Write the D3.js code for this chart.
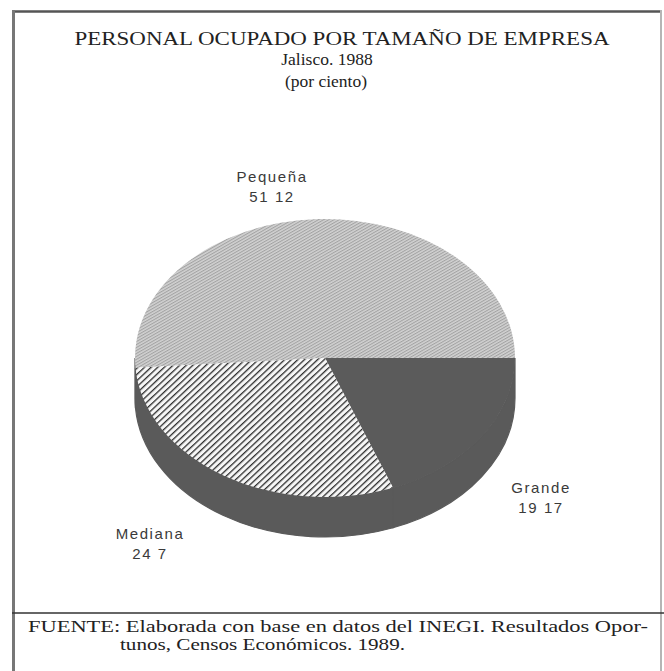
<!DOCTYPE html>
<html>
<head>
<meta charset="utf-8">
<script src="https://cdn.jsdelivr.net/npm/d3@7"></script>
<style>
  body { margin: 0; background: #fff; }
  svg { display: block; }
</style>
</head>
<body>
<div id="chart"></div>
<script>
// datos del grafico
let categories = ["Pequeña", "Grande", "Mediana"];
let values = [51.12, 19.17, 29.7];
let valueLabels = ["51 12", "19 17", "24 7"];
let titleLines = ["PERSONAL OCUPADO POR TAMAÑO DE EMPRESA", "Jalisco. 1988", "(por ciento)"];
let footerLines = ["FUENTE: Elaborada con base en datos del INEGI. Resultados Opor-", "tunos, Censos Económicos. 1989."];

let width = 664, height = 671;
let cx = 325, cy = 358, rx = 190, ry = 139, depth = 40;

let svg = d3.select("#chart").append("svg")
    .attr("width", width).attr("height", height);

let defs = svg.append("defs");

// trama fina gris para Pequeña
let p1 = defs.append("pattern").attr("id", "pat-peq")
    .attr("patternUnits", "userSpaceOnUse").attr("width", 8).attr("height", 3.2)
    .attr("patternTransform", "rotate(-38)");
p1.append("rect").attr("width", 8).attr("height", 3.2).attr("fill", "#d2d2d2");
p1.append("rect").attr("width", 8).attr("height", 1.3).attr("fill", "#a2a2a2");

// rayado negro sobre blanco para Mediana
let p2 = defs.append("pattern").attr("id", "pat-med")
    .attr("patternUnits", "userSpaceOnUse").attr("width", 8).attr("height", 5.2)
    .attr("patternTransform", "rotate(-52)");
p2.append("rect").attr("width", 8).attr("height", 5.2).attr("fill", "#f6f6f6");
p2.append("rect").attr("width", 8).attr("height", 1.5).attr("fill", "#2e2e2e");

let topFill = {"Pequeña": "url(#pat-peq)", "Grande": "#5b5b5b", "Mediana": "url(#pat-med)"};
let sideColor = "#5a5a5a";

// marco
let frame = svg.append("g");
frame.append("line").attr("x1", 12).attr("x2", 662).attr("y1", 11.5).attr("y2", 11.5)
    .attr("stroke", "#555").attr("stroke-width", 2.5);
frame.append("line").attr("x1", 13.5).attr("x2", 13.5).attr("y1", 10).attr("y2", height)
    .attr("stroke", "#777").attr("stroke-width", 3);
frame.append("line").attr("x1", 661).attr("x2", 661).attr("y1", 10).attr("y2", height)
    .attr("stroke", "#b5b5b5").attr("stroke-width", 2);
frame.append("line").attr("x1", 12).attr("x2", 664).attr("y1", 613).attr("y2", 613)
    .attr("stroke", "#333").attr("stroke-width", 1.6);

// titulo
let tY = [45, 65, 87];
let tX = [342, 327, 326];
svg.append("g").selectAll("text").data(titleLines).enter().append("text")
    .attr("x", (d, i) => tX[i]).attr("y", (d, i) => tY[i])
    .attr("text-anchor", "middle")
    .attr("font-family", "Liberation Serif, Times New Roman, serif")
    .attr("font-size", (d, i) => i == 0 ? 19 : 17.5)
    .attr("fill", "#222")
    .attr("textLength", (d, i) => i == 0 ? 535 : null)
    .attr("lengthAdjust", "spacingAndGlyphs")
    .text(d => d);

// pastel
let total = d3.sum(values);
let start = Math.PI / 2 - 2 * Math.PI * values[0] / total;
let pie = d3.pie().sort(null).value(d => d.value)
    .startAngle(start).endAngle(start + 2 * Math.PI);
let data = categories.map((c, i) => ({name: c, value: values[i], label: valueLabels[i]}));
let arcs = pie(data);

function pt(a, dy) {
    return [cx + rx * Math.sin(a), cy - ry * Math.cos(a) + dy];
}

// pared lateral: solo la mitad frontal (de 3 a 9 en punto)
function sidePath(a0, a1) {
    let s = Math.max(a0, Math.PI / 2), e = Math.min(a1, 3 * Math.PI / 2);
    if (e <= s) return null;
    let p0 = pt(s, 0), p1 = pt(e, 0), p2 = pt(e, depth), p3 = pt(s, depth);
    let large = (e - s) > Math.PI ? 1 : 0;
    return "M" + p0 + "A" + rx + "," + ry + " 0 " + large + " 1 " + p1 +
        "L" + p2 + "A" + rx + "," + ry + " 0 " + large + " 0 " + p3 + "Z";
}

let sides = [];
arcs.forEach(d => {
    [0, 2 * Math.PI, -2 * Math.PI].forEach(off => {
        let p = sidePath(d.startAngle + off, d.endAngle + off);
        if (p) sides.push({name: d.data.name, path: p});
    });
});

svg.append("g").selectAll("path").data(sides).enter().append("path")
    .attr("d", d => d.path)
    .attr("fill", sideColor)
    .attr("stroke", sideColor).attr("stroke-width", 1.2);

let arc = d3.arc().innerRadius(0).outerRadius(rx);
svg.append("g")
    .attr("transform", "translate(" + cx + "," + cy + ") scale(1," + (ry / rx) + ")")
    .selectAll("path").data(arcs).enter().append("path")
    .attr("d", arc)
    .attr("fill", d => topFill[d.data.name]);

// etiquetas
let labelPos = {"Pequeña": [272, 182], "Grande": [541, 493], "Mediana": [150, 539]};
let lab = svg.append("g").selectAll("g").data(arcs).enter().append("g")
    .attr("transform", d => "translate(" + labelPos[d.data.name] + ")")
    .attr("font-family", "Liberation Sans, Arial, sans-serif")
    .attr("font-size", 15).attr("fill", "#3a3a3a")
    .attr("text-anchor", "middle").attr("letter-spacing", 1.6);
lab.append("text").text(d => d.data.name);
lab.append("text").attr("y", 20).text(d => d.data.label);

// fuente
svg.append("g").selectAll("text").data(footerLines).enter().append("text")
    .attr("x", (d, i) => i == 0 ? 28 : 120)
    .attr("y", (d, i) => i == 0 ? 632 : 650)
    .attr("font-family", "Liberation Serif, Times New Roman, serif")
    .attr("font-size", 16).attr("fill", "#222")
    .attr("textLength", (d, i) => i == 0 ? 620 : 285)
    .attr("lengthAdjust", "spacingAndGlyphs")
    .text(d => d);
</script>
</body>
</html>
